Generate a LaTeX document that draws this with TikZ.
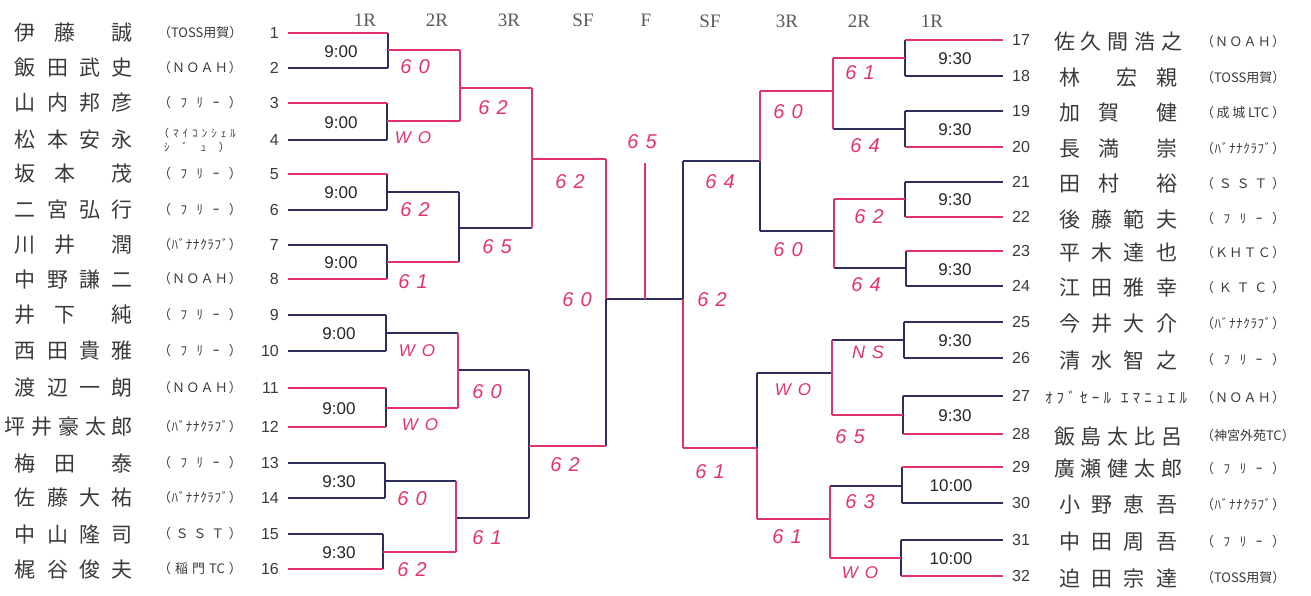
\documentclass[tikz,border=0pt]{standalone}
\usepackage{fontspec}
\setmainfont{Liberation Serif}
\newfontfamily\jp{Noto Sans CJK JP}
\newfontfamily\ssf{Liberation Sans}
\definecolor{ink}{HTML}{2E2E5C}
\definecolor{mk}{HTML}{E2336B}
\definecolor{txt}{HTML}{3A3A3A}
\makeatletter
\newcommand\spreadchars[1]{\@tfor\sc@ch:=#1\do{\sc@ch\hfill}\unskip}
\makeatother
\newcommand\nmIV[1]{\makebox[118pt][s]{\spreadchars{#1}}}
\newcommand\nmV[1]{\makebox[128pt][s]{\spreadchars{#1}}}
\newcommand\nmA[3]{\makebox[118pt][s]{#1\hfill#2\hfill\hfill#3}}
\newcommand\nmB[3]{\makebox[118pt][s]{#1\hfill\hfill#2\hfill#3}}
\newcommand\club[1]{\makebox[84pt][s]{\spreadchars{#1}}}
\newcommand\sco[2]{#1\hspace{7pt}#2}
\tikzset{
  ln/.style={draw=ink, line width=1.1pt},
  win/.style={draw=mk, line width=1.7pt},
  nameL/.style={anchor=east, inner sep=0pt, font=\jp\fontsize{21}{21}\selectfont, text=txt},
  nameR/.style={anchor=center, inner sep=0pt, font=\jp\fontsize{21}{21}\selectfont, text=txt},
  clubT/.style={inner sep=0pt, font=\jp\fontsize{13}{15}\selectfont, text=txt},
  numL/.style={anchor=east, inner sep=0pt, font=\ssf\fontsize{16}{16}\selectfont, text=txt},
  numR/.style={anchor=west, inner sep=0pt, font=\ssf\fontsize{16}{16}\selectfont, text=txt},
  rnd/.style={inner sep=0pt, font=\fontsize{19}{19}\selectfont, text=black!65},
  tm/.style={inner sep=0pt, font=\ssf\fontsize{17}{17}\selectfont, text=black!85},
  sc/.style={inner sep=0pt, font=\ssf\itshape\fontsize{20}{20}\selectfont, text=mk},
  scw/.style={inner sep=0pt, font=\ssf\itshape\fontsize{17}{17}\selectfont, text=mk},
}
\newcommand\plL[4]{\node[nameL] (nm#1) at (133,#2) {#3};
  \node[clubT] (cl#1) at (200,#2) {#4};
  \node[numL] (no#1) at (279,#2) {#1};}
\newcommand\plR[4]{\node[nameR] (nm#1) at (1118,#2+2) {#3};
  \node[clubT] (cl#1) at (1243,#2+2) {#4};
  \node[numR] (no#1) at (1012,#2) {#1};}
\begin{document}
\begin{tikzpicture}[x=1pt,y=-1pt]
\path[fill=white] (0,0) rectangle (1311,595);
\useasboundingbox (0,0) rectangle (1311,595);
% ---------- left coordinates
\foreach \i/\y/\x in {1/33/388,2/68/388,3/103/387,4/140/387,5/174/387,6/210/387,7/245/387,8/279/387,9/315/386,10/351/386,11/388/386,12/427/386,13/463/385,14/498/385,15/534/383,16/569/383}
  {\coordinate (la\i) at (288,\y); \coordinate (lb\i) at (\x,\y);}
\foreach \m/\y/\x/\z in {1/50/388/460,2/121/387/460,3/192/387/459,4/262/387/459,5/333/386/458,6/408/386/458,7/481/385/456,8/552/383/456}
  {\coordinate (lc\m) at (\x,\y); \coordinate (ld\m) at (\z,\y);}
\foreach \k/\y/\x/\z in {1/88/460/532,2/228/459/532,3/370/458/529,4/518/456/529}
  {\coordinate (le\k) at (\x,\y); \coordinate (lf\k) at (\z,\y);}
\foreach \j/\y/\x in {1/159/532,2/446/529}
  {\coordinate (lg\j) at (\x,\y); \coordinate (lh\j) at (606,\y);}
\coordinate (lh0) at (606,299);
\coordinate (rh0) at (683,299);
\coordinate (fb) at (645,299);
\coordinate (ft) at (645,163);
% ---------- right coordinates
\foreach \i/\y/\x in {17/40/905,18/76/905,19/111/905,20/147/905,21/182/905,22/217/905,23/251/906,24/286/906,25/322/904,26/358/904,27/396/903,28/434/903,29/467/902,30/503/902,31/540/901,32/576/901}
  {\coordinate (ra\i) at (1003,\y); \coordinate (rb\i) at (\x,\y);}
\foreach \m/\y/\x/\z in {1/58/905/833,2/129/905/833,3/199/905/834,4/268/906/834,5/340/904/832,6/415/903/832,7/486/902/830,8/558/901/830}
  {\coordinate (rc\m) at (\x,\y); \coordinate (rd\m) at (\z,\y);}
\foreach \k/\y/\x/\z in {1/91/833/760,2/231/834/760,3/373/832/757,4/519/830/757}
  {\coordinate (re\k) at (\x,\y); \coordinate (rf\k) at (\z,\y);}
\foreach \j/\y/\x in {1/161/760,2/448/757}
  {\coordinate (rg\j) at (\x,\y); \coordinate (rh\j) at (683,\y);}
% ---------- plain lines
\foreach \i in {1,...,16} {\draw[ln] (la\i) -- (lb\i);}
\foreach \i in {17,...,32} {\draw[ln] (ra\i) -- (rb\i);}
\draw[ln] (lb1)--(lb2) (lb3)--(lb4) (lb5)--(lb6) (lb7)--(lb8) (lb9)--(lb10) (lb11)--(lb12) (lb13)--(lb14) (lb15)--(lb16);
\draw[ln] (rb17)--(rb18) (rb19)--(rb20) (rb21)--(rb22) (rb23)--(rb24) (rb25)--(rb26) (rb27)--(rb28) (rb29)--(rb30) (rb31)--(rb32);
\foreach \m in {1,...,8} {\draw[ln] (lc\m) -- (ld\m); \draw[ln] (rc\m) -- (rd\m);}
\draw[ln] (ld1)--(ld2) (ld3)--(ld4) (ld5)--(ld6) (ld7)--(ld8);
\draw[ln] (rd1)--(rd2) (rd3)--(rd4) (rd5)--(rd6) (rd7)--(rd8);
\foreach \k in {1,...,4} {\draw[ln] (le\k) -- (lf\k); \draw[ln] (re\k) -- (rf\k);}
\draw[ln] (lf1)--(lf2) (lf3)--(lf4) (rf1)--(rf2) (rf3)--(rf4);
\foreach \j in {1,2} {\draw[ln] (lg\j) -- (lh\j); \draw[ln] (rg\j) -- (rh\j);}
\draw[ln] (lh1)--(lh2) (rh1)--(rh2);
\draw[ln] (lh0)--(rh0);
\draw[ln] (fb)--(ft);
% ---------- marker highlights
\draw[win] (la1)--(lb1) (la3)--(lb3) (la5)--(lb5) (la8)--(lb8) (la11)--(lb11) (la12)--(lb12) (la16)--(lb16);
\draw[win] (lc1)--(ld1) (lc2)--(ld2) (lc4)--(ld4) (lc6)--(ld6) (lc8)--(ld8);
\draw[win] (ld1)--(ld2) (ld5)--(ld6) (ld7)--(ld8);
\draw[win] (le1)--(lf1) (lf1)--(lf2) (lg1)--(lh1) (lg2)--(lh2) (lh1)--(lh0) (fb)--(ft);
\draw[win] (ra17)--(rb17) (ra20)--(rb20) (ra22)--(rb22) (ra23)--(rb23) (ra28)--(rb28) (ra29)--(rb29) (ra32)--(rb32);
\draw[win] (rc1)--(rd1) (rc3)--(rd3) (rc6)--(rd6) (rc8)--(rd8);
\draw[win] (rd1)--(rd2) (rd3)--(rd4) (rd5)--(rd6) (rd7)--(rd8);
\draw[win] (re1)--(rf1) (rf1)--(rg1) (re4)--(rf4) (rg2)--(rf4) (rg2)--(rh2) (rh0)--(rh2);
% ---------- round headers
\node[rnd] (h1) at (365,20) {1R};
\node[rnd] (h2) at (437,20) {2R};
\node[rnd] (h3) at (509,20) {3R};
\node[rnd] (h4) at (583,20) {SF};
\node[rnd] (h5) at (646,20) {F};
\node[rnd] (h6) at (710,21) {SF};
\node[rnd] (h7) at (787,21) {3R};
\node[rnd] (h8) at (859,21) {2R};
\node[rnd] (h9) at (932,21) {1R};
% ---------- players left
\plL{1}{33}{\nmA{伊}{藤}{誠}}{\club{（{TOSS}用賀）}}
\plL{2}{68}{\nmIV{飯田武史}}{\club{（ＮＯＡＨ）}}
\plL{3}{103}{\nmIV{山内邦彦}}{\club{（ﾌﾘｰ）}}
\node[nameL] (nm4) at (133,140) {\nmIV{松本安永}};
\node[clubT, font=\jp\fontsize{11}{14}\selectfont, align=center] (cl4) at (197,140) {\makebox[78pt][s]{\spreadchars{（ﾏｲｺﾝｼｪﾙ}}\\\makebox[66pt][s]{\spreadchars{ｼﾞｭ）}}};
\node[numL] (no4) at (279,140) {4};
\plL{5}{174}{\nmA{坂}{本}{茂}}{\club{（ﾌﾘｰ）}}
\plL{6}{210}{\nmIV{二宮弘行}}{\club{（ﾌﾘｰ）}}
\plL{7}{245}{\nmA{川}{井}{潤}}{\club{（ﾊﾞﾅﾅｸﾗﾌﾞ）}}
\plL{8}{279}{\nmIV{中野謙二}}{\club{（ＮＯＡＨ）}}
\plL{9}{315}{\nmA{井}{下}{純}}{\club{（ﾌﾘｰ）}}
\plL{10}{351}{\nmIV{西田貴雅}}{\club{（ﾌﾘｰ）}}
\plL{11}{388}{\nmIV{渡辺一朗}}{\club{（ＮＯＡＨ）}}
\plL{12}{427}{\nmV{坪井豪太郎}}{\club{（ﾊﾞﾅﾅｸﾗﾌﾞ）}}
\plL{13}{463}{\nmA{梅}{田}{泰}}{\club{（ﾌﾘｰ）}}
\plL{14}{498}{\nmIV{佐藤大祐}}{\club{（ﾊﾞﾅﾅｸﾗﾌﾞ）}}
\plL{15}{534}{\nmIV{中山隆司}}{\club{（ＳＳＴ）}}
\plL{16}{569}{\nmIV{梶谷俊夫}}{\club{（稲門{TC}）}}
% ---------- players right
\plR{17}{40}{\nmV{佐久間浩之}}{\club{（ＮＯＡＨ）}}
\plR{18}{76}{\nmB{林}{宏}{親}}{\club{（{TOSS}用賀）}}
\plR{19}{111}{\nmA{加}{賀}{健}}{\club{（成城{LTC}）}}
\plR{20}{147}{\nmA{長}{満}{崇}}{\club{（ﾊﾞﾅﾅｸﾗﾌﾞ）}}
\plR{21}{182}{\nmA{田}{村}{裕}}{\club{（ＳＳＴ）}}
\plR{22}{217}{\nmIV{後藤範夫}}{\club{（ﾌﾘｰ）}}
\plR{23}{251}{\nmIV{平木達也}}{\club{（ＫＨＴＣ）}}
\plR{24}{286}{\nmIV{江田雅幸}}{\club{（ＫＴＣ）}}
\plR{25}{322}{\nmIV{今井大介}}{\club{（ﾊﾞﾅﾅｸﾗﾌﾞ）}}
\plR{26}{358}{\nmIV{清水智之}}{\club{（ﾌﾘｰ）}}
\node[nameR, font=\jp\fontsize{15}{15}\selectfont] (nm27) at (1116,397) {\makebox[142pt][s]{\spreadchars{ｵﾌﾞｾｰﾙ}\hspace{10pt}\spreadchars{ｴﾏﾆｭｴﾙ}}};
\node[clubT] (cl27) at (1243,398) {\club{（ＮＯＡＨ）}};
\node[numR] (no27) at (1012,396) {27};
\plR{28}{434}{\nmV{飯島太比呂}}{\club{（神宮外苑{TC}）}}
\plR{29}{467}{\nmV{廣瀬健太郎}}{\club{（ﾌﾘｰ）}}
\plR{30}{503}{\nmIV{小野恵吾}}{\club{（ﾊﾞﾅﾅｸﾗﾌﾞ）}}
\plR{31}{540}{\nmIV{中田周吾}}{\club{（ﾌﾘｰ）}}
\plR{32}{576}{\nmIV{迫田宗達}}{\club{（{TOSS}用賀）}}
% ---------- times
\node[tm] (t1) at (341,52) {9:00};
\node[tm] (t2) at (341,123) {9:00};
\node[tm] (t3) at (341,193) {9:00};
\node[tm] (t4) at (341,263) {9:00};
\node[tm] (t5) at (339,334) {9:00};
\node[tm] (t6) at (339,409) {9:00};
\node[tm] (t7) at (339,482) {9:30};
\node[tm] (t8) at (339,553) {9:30};
\node[tm] (t9) at (955,59) {9:30};
\node[tm] (t10) at (955,130) {9:30};
\node[tm] (t11) at (955,200) {9:30};
\node[tm] (t12) at (955,270) {9:30};
\node[tm] (t13) at (955,341) {9:30};
\node[tm] (t14) at (955,416) {9:30};
\node[tm] (t15) at (951,486) {10:00};
\node[tm] (t16) at (951,559) {10:00};
% ---------- scores left
\node[sc] (s1) at (415,67) {\sco{6}{0}};
\node[scw] (s2) at (413,138) {\sco{W}{O}};
\node[sc] (s3) at (493,108) {\sco{6}{2}};
\node[sc] (s4) at (415,210) {\sco{6}{2}};
\node[sc] (s5) at (413,282) {\sco{6}{1}};
\node[sc] (s6) at (497,247) {\sco{6}{5}};
\node[sc] (s7) at (570,182) {\sco{6}{2}};
\node[sc] (s8) at (642,142) {\sco{6}{5}};
\node[sc] (s9) at (577,300) {\sco{6}{0}};
\node[scw] (s10) at (417,351) {\sco{W}{O}};
\node[sc] (s11) at (487,392) {\sco{6}{0}};
\node[scw] (s12) at (420,425) {\sco{W}{O}};
\node[sc] (s13) at (412,499) {\sco{6}{0}};
\node[sc] (s14) at (412,570) {\sco{6}{2}};
\node[sc] (s15) at (487,538) {\sco{6}{1}};
\node[sc] (s16) at (565,465) {\sco{6}{2}};
% ---------- scores right
\node[sc] (s17) at (860,73) {\sco{6}{1}};
\node[sc] (s18) at (865,146) {\sco{6}{4}};
\node[sc] (s19) at (788,112) {\sco{6}{0}};
\node[sc] (s20) at (720,182) {\sco{6}{4}};
\node[sc] (s21) at (869,217) {\sco{6}{2}};
\node[sc] (s22) at (866,285) {\sco{6}{4}};
\node[sc] (s23) at (788,250) {\sco{6}{0}};
\node[sc] (s24) at (712,300) {\sco{6}{2}};
\node[sc, font=\ssf\itshape\fontsize{18}{18}\selectfont] (s25) at (868,352) {\sco{N}{S}};
\node[sc] (s26) at (850,437) {\sco{6}{5}};
\node[scw] (s27) at (793,390) {\sco{W}{O}};
\node[sc] (s28) at (710,472) {\sco{6}{1}};
\node[sc] (s29) at (860,502) {\sco{6}{3}};
\node[sc] (s30) at (787,537) {\sco{6}{1}};
\node[scw] (s31) at (860,573) {\sco{W}{O}};
\end{tikzpicture}
\end{document}
